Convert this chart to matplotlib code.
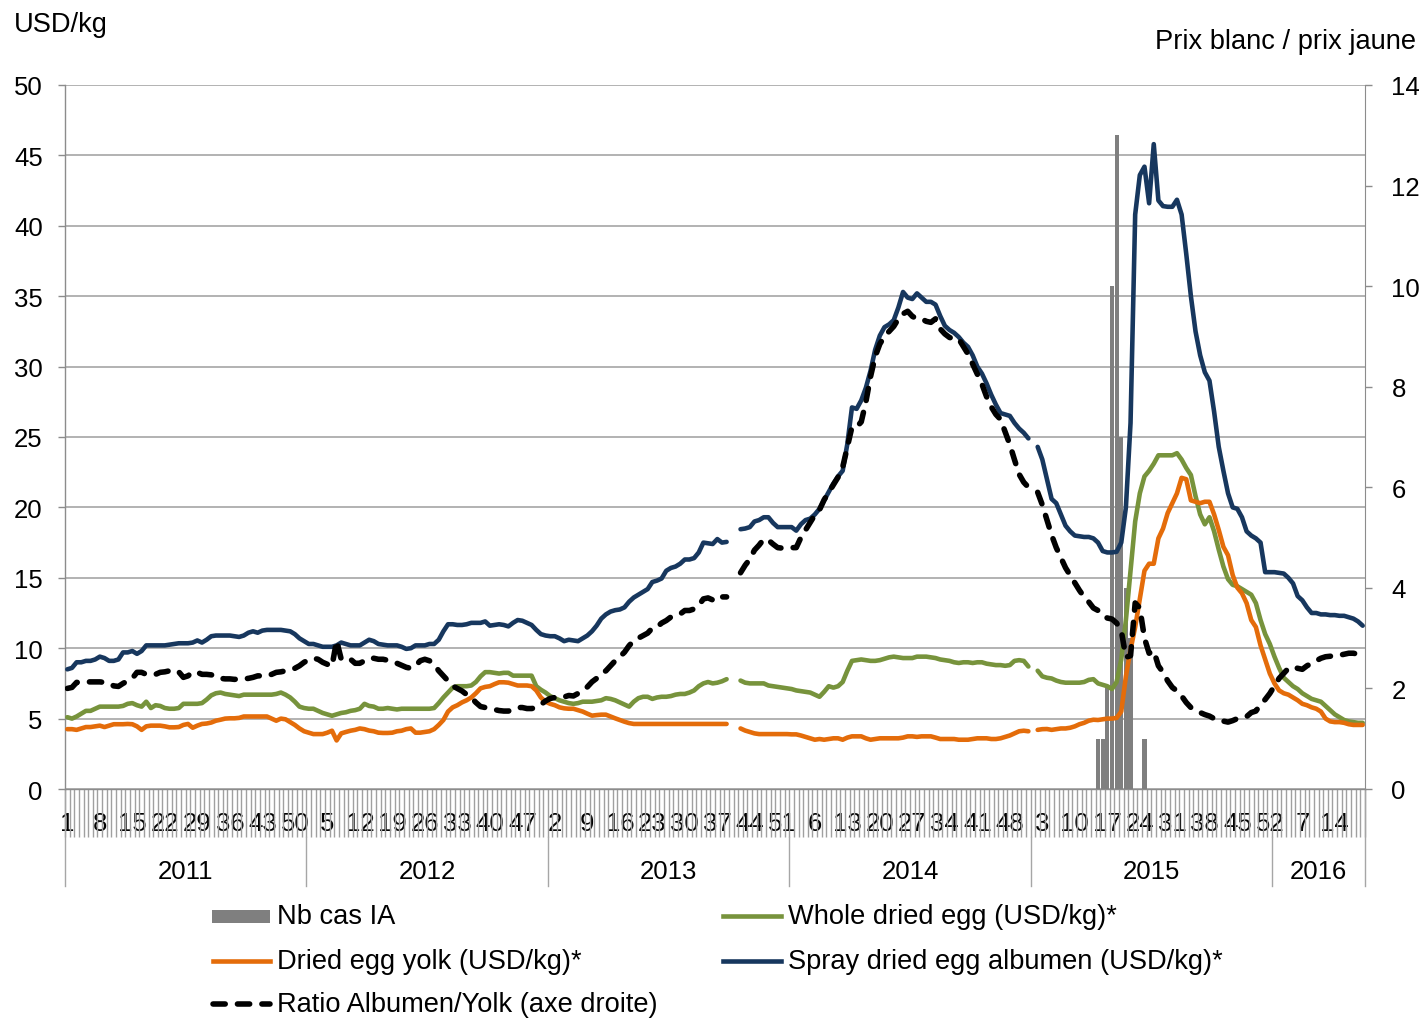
import numpy as np
import matplotlib
matplotlib.use("Agg")
import matplotlib.pyplot as plt
import matplotlib.transforms as mtransforms
from matplotlib.lines import Line2D
from matplotlib.patches import Rectangle

plt.rcParams['font.family'] = ['Liberation Sans', 'DejaVu Sans']

nan = float('nan')

# Calendar: weeks per year shown on the category axis
years = [2011, 2012, 2013, 2014, 2015, 2016]
weeks_per_year = [52, 52, 52, 52, 52, 20]

# Spray dried egg albumen, USD/kg (weekly)
albumen = [
    8.5, 8.6, 9.0, 9.0, 9.1, 9.1, 9.2, 9.4, 9.3, 9.1, 9.1, 9.2, 9.7, 9.7, 9.8, 9.6, 9.8, 10.2, 10.2, 10.2,
    10.2, 10.2, 10.25, 10.3, 10.35, 10.35, 10.35, 10.4, 10.55, 10.4, 10.6, 10.85, 10.9, 10.9, 10.9, 10.9,
    10.85, 10.8, 10.9, 11.1, 11.2, 11.1, 11.25, 11.3, 11.3, 11.3, 11.3, 11.25, 11.2, 11.0, 10.7, 10.5,
    # 2012
    10.3, 10.3, 10.2, 10.1, 10.1, 10.1, 10.2, 10.4, 10.3, 10.2, 10.2, 10.2, 10.4, 10.6, 10.5, 10.3, 10.25,
    10.2, 10.2, 10.2, 10.1, 9.95, 10.0, 10.2, 10.2, 10.2, 10.3, 10.3, 10.6, 11.2, 11.7, 11.7, 11.65, 11.65,
    11.7, 11.8, 11.8, 11.8, 11.9, 11.6, 11.65, 11.7, 11.65, 11.55, 11.8, 12.0, 11.95, 11.8, 11.65, 11.3,
    11.0, 10.9,
    # 2013
    10.85, 10.85, 10.7, 10.5, 10.6, 10.55, 10.5, 10.7, 10.9, 11.2, 11.6, 12.1, 12.4, 12.6, 12.7, 12.75,
    12.9, 13.3, 13.6, 13.8, 14.0, 14.2, 14.7, 14.8, 14.95, 15.5, 15.7, 15.8, 16.0, 16.3, 16.3, 16.4, 16.8,
    17.5, 17.45, 17.4, 17.75, 17.5, 17.55, nan, nan, 18.45, 18.5, 18.6, 19.0, 19.1, 19.3, 19.3, 18.9, 18.6,
    18.6, 18.6,
    # 2014
    18.6, 18.35, 18.8, 19.1, 19.2, 19.5, 19.9, 20.5, 21.1, 21.7, 22.2, 22.6, 24.5, 27.1, 27.0, 27.6, 28.5,
    29.7, 31.2, 32.2, 32.8, 33.0, 33.3, 34.2, 35.3, 34.9, 34.8, 35.2, 34.9, 34.6, 34.6, 34.4, 33.6, 32.9,
    32.6, 32.4, 32.1, 31.7, 31.4, 30.8, 30.0, 29.5, 28.8, 28.0, 27.3, 26.7, 26.6, 26.5, 26.0, 25.6, 25.3,
    24.9,
    # 2015
    nan, 24.3, 23.4, 22.0, 20.6, 20.3, 19.5, 18.7, 18.3, 18.0, 17.95, 17.9, 17.9, 17.8, 17.5, 16.9, 16.8,
    16.8, 16.85, 17.5, 20.0, 26.0, 40.8, 43.6, 44.2, 41.6, 45.8, 41.8, 41.4, 41.35, 41.35, 41.85, 40.8,
    38.0, 35.0, 32.5, 30.8, 29.6, 29.0, 26.8, 24.3, 22.6, 21.0, 20.0, 19.9, 19.3, 18.3, 18.0, 17.8, 17.5,
    15.4, 15.4,
    # 2016
    15.4, 15.35, 15.3, 15.0, 14.6, 13.7, 13.4, 12.9, 12.5, 12.5, 12.4, 12.4, 12.35, 12.35, 12.3, 12.3,
    12.2, 12.1, 11.9, 11.6,
]

# Whole dried egg, USD/kg (weekly)
whole_egg = [
    5.1, 5.0, 5.15, 5.35, 5.55, 5.55, 5.7, 5.85, 5.85, 5.85, 5.85, 5.85, 5.9, 6.05, 6.1, 5.95, 5.85, 6.2,
    5.75, 5.95, 5.9, 5.75, 5.7, 5.7, 5.75, 6.05, 6.05, 6.05, 6.05, 6.1, 6.35, 6.65, 6.8, 6.85, 6.75, 6.7,
    6.65, 6.6, 6.7, 6.7, 6.7, 6.7, 6.7, 6.7, 6.7, 6.75, 6.85, 6.7, 6.5, 6.2, 5.85, 5.75,
    # 2012
    5.7, 5.7, 5.55, 5.4, 5.3, 5.2, 5.3, 5.4, 5.45, 5.55, 5.6, 5.7, 6.05, 5.9, 5.85, 5.7, 5.7, 5.75, 5.7,
    5.65, 5.7, 5.7, 5.7, 5.7, 5.7, 5.7, 5.7, 5.75, 6.1, 6.5, 6.85, 7.2, 7.3, 7.3, 7.3, 7.35, 7.6, 8.0, 8.3,
    8.3, 8.25, 8.2, 8.25, 8.25, 8.05, 8.05, 8.05, 8.05, 8.05, 7.3, 7.05, 6.85,
    # 2013
    6.6, 6.45, 6.3, 6.2, 6.1, 6.05, 6.1, 6.2, 6.2, 6.2, 6.25, 6.3, 6.45, 6.4, 6.3, 6.15, 6.0, 5.85, 6.2,
    6.45, 6.55, 6.55, 6.4, 6.5, 6.55, 6.55, 6.6, 6.7, 6.75, 6.75, 6.85, 7.0, 7.3, 7.5, 7.6, 7.5, 7.55,
    7.65, 7.8, nan, nan, 7.7, 7.55, 7.5, 7.5, 7.5, 7.5, 7.35, 7.3, 7.25, 7.2, 7.15,
    # 2014
    7.1, 7.0, 6.95, 6.9, 6.85, 6.7, 6.55, 6.9, 7.3, 7.2, 7.3, 7.6, 8.4, 9.1, 9.15, 9.2, 9.15, 9.1, 9.1,
    9.15, 9.25, 9.35, 9.4, 9.35, 9.3, 9.3, 9.3, 9.4, 9.4, 9.4, 9.35, 9.3, 9.2, 9.15, 9.1, 9.0, 8.95, 9.0,
    9.0, 8.95, 9.0, 9.0, 8.9, 8.85, 8.8, 8.8, 8.75, 8.8, 9.1, 9.15, 9.1, 8.7,
    # 2015
    nan, 8.4, 8.0, 7.9, 7.85, 7.7, 7.6, 7.55, 7.55, 7.55, 7.55, 7.6, 7.75, 7.8, 7.5, 7.4, 7.3, 7.1, 7.6,
    9.2, 12.0, 15.5, 19.0, 21.0, 22.2, 22.6, 23.1, 23.7, 23.7, 23.7, 23.7, 23.85, 23.4, 22.8, 22.3, 20.8,
    19.5, 18.8, 19.3, 18.3, 17.0, 15.8, 14.9, 14.5, 14.4, 14.2, 14.0, 13.8, 13.2, 12.0, 11.0, 10.3,
    # 2016
    9.4, 8.6, 7.9, 7.6, 7.3, 7.1, 6.8, 6.6, 6.4, 6.3, 6.2, 5.9, 5.6, 5.3, 5.1, 4.9, 4.8, 4.75, 4.7, 4.7,
]

# Dried egg yolk, USD/kg (weekly)
yolk = [
    4.25, 4.25, 4.2, 4.3, 4.4, 4.4, 4.45, 4.5, 4.4, 4.5, 4.6, 4.6, 4.6, 4.62, 4.6, 4.45, 4.2, 4.45, 4.5,
    4.5, 4.5, 4.45, 4.38, 4.38, 4.4, 4.55, 4.62, 4.35, 4.5, 4.62, 4.65, 4.72, 4.85, 4.92, 5.0, 5.02, 5.02,
    5.05, 5.15, 5.15, 5.15, 5.15, 5.15, 5.15, 5.0, 4.85, 5.0, 4.95, 4.75, 4.55, 4.3, 4.1,
    # 2012
    4.0, 3.9, 3.9, 3.9, 4.0, 4.14, 3.45, 3.95, 4.05, 4.14, 4.2, 4.3, 4.25, 4.15, 4.1, 4.0, 3.98, 3.98,
    4.0, 4.1, 4.14, 4.25, 4.3, 4.0, 4.0, 4.05, 4.1, 4.25, 4.55, 4.9, 5.5, 5.8, 5.95, 6.15, 6.3, 6.5, 6.8,
    7.15, 7.25, 7.3, 7.45, 7.58, 7.58, 7.55, 7.45, 7.35, 7.35, 7.35, 7.3, 7.0, 6.5, 6.2,
    # 2013
    6.05, 5.95, 5.8, 5.73, 5.7, 5.7, 5.6, 5.5, 5.35, 5.21, 5.25, 5.28, 5.28, 5.15, 5.02, 4.9, 4.78, 4.68,
    4.62, 4.62, 4.62, 4.62, 4.62, 4.62, 4.62, 4.62, 4.62, 4.62, 4.62, 4.62, 4.62, 4.62, 4.62, 4.62, 4.62,
    4.62, 4.62, 4.62, 4.62, nan, nan, 4.3, 4.15, 4.05, 3.95, 3.9, 3.9, 3.9, 3.9, 3.9, 3.9, 3.9,
    # 2014
    3.88, 3.88, 3.8, 3.7, 3.6, 3.5, 3.55, 3.5, 3.55, 3.6, 3.6, 3.5, 3.65, 3.74, 3.74, 3.74, 3.6, 3.5,
    3.55, 3.6, 3.6, 3.6, 3.6, 3.6, 3.65, 3.74, 3.74, 3.7, 3.74, 3.74, 3.74, 3.65, 3.55, 3.55, 3.55, 3.55,
    3.5, 3.5, 3.5, 3.55, 3.6, 3.6, 3.6, 3.55, 3.55, 3.6, 3.7, 3.8, 3.95, 4.1, 4.14, 4.1,
    # 2015
    nan, 4.2, 4.25, 4.26, 4.2, 4.25, 4.3, 4.3, 4.35, 4.45, 4.6, 4.7, 4.85, 4.92, 4.9, 4.95, 5.0, 5.0,
    5.05, 5.5, 8.0, 9.9, 11.5, 13.5, 15.5, 16.0, 16.0, 17.8, 18.5, 19.6, 20.3, 21.0, 22.1, 22.0, 20.5,
    20.4, 20.3, 20.4, 20.4, 19.5, 18.4, 17.2, 16.6, 15.2, 14.3, 13.9, 13.2, 12.0, 11.5, 10.2, 9.2, 8.2,
    # 2016
    7.5, 7.0, 6.8, 6.7, 6.5, 6.3, 6.05, 5.95, 5.8, 5.7, 5.5, 5.0, 4.8, 4.75, 4.75, 4.7, 4.6, 4.55, 4.55,
    4.55,
]

# Albumen / yolk price ratio (right axis)
ratio = [
    2.0, 2.02, 2.12, 2.12, 2.13, 2.13, 2.13, 2.13, 2.12, 2.1, 2.05, 2.04, 2.1, 2.15, 2.2, 2.32, 2.32, 2.28,
    2.27, 2.28, 2.32, 2.33, 2.35, 2.37, 2.33, 2.22, 2.25, 2.33, 2.32, 2.28, 2.28, 2.27, 2.25, 2.2, 2.19,
    2.19, 2.18, 2.19, 2.19, 2.2, 2.22, 2.25, 2.25, 2.25, 2.28, 2.32, 2.33, 2.35, 2.37, 2.4, 2.45, 2.52,
    # 2012
    2.57, 2.6, 2.58, 2.52, 2.48, 2.44, 2.95, 2.58, 2.6, 2.58, 2.5, 2.5, 2.55, 2.6, 2.6, 2.58, 2.58, 2.56,
    2.52, 2.5, 2.46, 2.42, 2.4, 2.45, 2.55, 2.58, 2.55, 2.48, 2.35, 2.25, 2.15, 2.05, 2.0, 1.95, 1.88,
    1.82, 1.72, 1.64, 1.62, 1.6, 1.58, 1.56, 1.55, 1.55, 1.58, 1.62, 1.62, 1.6, 1.6, 1.62, 1.68, 1.75,
    # 2013
    1.8, 1.82, 1.85, 1.83, 1.86, 1.85, 1.9, 1.95, 2.03, 2.13, 2.2, 2.3, 2.35, 2.45, 2.55, 2.63, 2.72, 2.85,
    2.95, 3.0, 3.05, 3.1, 3.2, 3.22, 3.3, 3.35, 3.42, 3.45, 3.48, 3.55, 3.55, 3.58, 3.65, 3.78, 3.8, 3.76,
    3.84, 3.82, 3.82, nan, nan, 4.3, 4.45, 4.57, 4.75, 4.85, 4.97, 4.95, 4.87, 4.8, 4.79, 4.79,
    # 2014
    4.8, 4.8, 5.0, 5.15, 5.3, 5.45, 5.55, 5.75, 5.9, 6.05, 6.2, 6.4, 6.8, 7.2, 7.2, 7.3, 7.7, 8.2, 8.6,
    8.85, 9.0, 9.1, 9.2, 9.35, 9.45, 9.5, 9.4, 9.35, 9.35, 9.3, 9.28, 9.35, 9.15, 9.05, 8.98, 8.95, 8.95,
    8.8, 8.65, 8.45, 8.25, 8.05, 7.8, 7.6, 7.45, 7.35, 7.1, 6.85, 6.55, 6.26, 6.1, 6.0,
    # 2015
    nan, 5.9, 5.65, 5.35, 5.05, 4.8, 4.6, 4.4, 4.25, 4.1, 3.95, 3.82, 3.72, 3.6, 3.55, 3.45, 3.4, 3.38,
    3.3, 3.15, 2.62, 2.65, 3.7, 3.6, 3.0, 2.7, 2.75, 2.45, 2.32, 2.15, 2.02, 1.95, 1.85, 1.72, 1.62, 1.57,
    1.52, 1.48, 1.45, 1.4, 1.35, 1.35, 1.33, 1.36, 1.4, 1.42, 1.44, 1.52, 1.55, 1.68, 1.78, 1.9,
    # 2016
    2.05, 2.2, 2.3, 2.4, 2.43, 2.4, 2.38, 2.45, 2.5, 2.55, 2.6, 2.63, 2.64, 2.65, 2.66, 2.68, 2.7, 2.7,
    2.68, 2.62,
]

# Avian influenza cases (right axis), by week of 2015
ia_year = 2015
ia_weeks = [15, 16, 17, 18, 19, 20, 21, 22, 25]
ia_cases = [1, 1, 2, 10, 13, 7, 4, 3, 1]

# Colours
C_ALB = '#17375E'
C_YOLK = '#E46C0A'
C_WHOLE = '#77933C'
C_BAR = '#7F7F7F'
C_GRID = '#A6A6A6'
C_AXIS = '#8C8C8C'

# Category axis bookkeeping
week_numbers = []
year_start = []
for y, n in zip(years, weeks_per_year):
    year_start.append(len(week_numbers))
    week_numbers.extend(range(1, n + 1))
N = len(week_numbers)
x = np.arange(N)
bar_x = [year_start[years.index(ia_year)] + w - 1 for w in ia_weeks]

W, H = 1424, 1020
fig = plt.figure(figsize=(W / 100, H / 100), dpi=100)
L, R, T, B = 65, 1365, 86, 790
ax = fig.add_axes([L / W, 1 - B / H, (R - L) / W, (B - T) / H])

TICK_FS = 18.5
TEXT_FS = 19.6
LW = 3.3
LW_RATIO = 4.0
DASH = (2.2, 2.2)

# Left axis with horizontal gridlines
ax.set_xlim(-0.5, N - 0.5)
ax.set_ylim(0, 50)
ax.set_yticks(range(0, 51, 5))
ax.yaxis.grid(True, color=C_GRID, linewidth=1.2)
ax.set_axisbelow(True)
ax.tick_params(axis='y', direction='out', length=5, width=1, color=C_AXIS,
               pad=11, labelsize=TICK_FS)
for s in ('top', 'right'):
    ax.spines[s].set_visible(False)
for s in ('left', 'bottom'):
    ax.spines[s].set_color(C_AXIS)
    ax.spines[s].set_linewidth(1.0)

# Week ticks at every category boundary, labels every 7 weeks
ax.set_xticks(np.arange(-0.5, N, 1.0), minor=True)
lab_idx = list(range(0, N, 7))
ax.set_xticks(lab_idx)
ax.set_xticklabels([str(week_numbers[i]) for i in lab_idx])
ax.tick_params(axis='x', which='minor', direction='out', length=34.5, width=1.0, color='#A0A0A0')
ax.tick_params(axis='x', which='major', length=0, pad=15.5, labelsize=TICK_FS)

# Year grouping below week labels
blend = mtransforms.blended_transform_factory(ax.transData, ax.transAxes)
y_mid = (B - 838) / (B - T)
y_bot = (B - 887) / (B - T)
bounds = [s - 0.5 for s in year_start] + [N - 0.5]
for k, b in enumerate(bounds):
    top = 0 if k in (0, len(bounds) - 1) else y_mid
    ax.add_line(Line2D([b, b], [top, y_bot], transform=blend, color=C_GRID,
                       linewidth=1.0, clip_on=False))
for y, s, n in zip(years, year_start, weeks_per_year):
    ax.text(s + (n - 1) / 2, (B - 872) / (B - T), str(y), transform=blend,
            ha='center', va='center', fontsize=TICK_FS)

# Right axis: avian influenza cases as bars (below the price lines)
ax_bar = ax.twinx()
ax_bar.set_ylim(0, 14)
ax_bar.set_yticks(range(0, 15, 2))
ax_bar.tick_params(axis='y', direction='out', length=5, width=1, color=C_AXIS,
                   pad=14, labelsize=TICK_FS)
for s in ('top', 'left', 'bottom'):
    ax_bar.spines[s].set_visible(False)
ax_bar.spines['right'].set_color(C_AXIS)
ax_bar.bar(bar_x, ia_cases, width=0.9, color=C_BAR, linewidth=0)

# Price lines on the left scale
ax_p = ax.twinx()
ax_p.set_ylim(0, 50)
ax_p.set_axis_off()
line_kw = dict(linewidth=LW, solid_joinstyle='round', solid_capstyle='round')
ax_p.plot(x, whole_egg, color=C_WHOLE, **line_kw)
ax_p.plot(x, yolk, color=C_YOLK, **line_kw)
ax_p.plot(x, albumen, color=C_ALB, **line_kw)

# Ratio on the right scale, on top
ax_r = ax.twinx()
ax_r.set_ylim(0, 14)
ax_r.set_axis_off()
ax_r.plot(x, ratio, color='black', linewidth=LW_RATIO, dashes=DASH,
          dash_capstyle='round', dash_joinstyle='round')

for i, a in enumerate((ax, ax_bar, ax_p, ax_r)):
    a.set_zorder(i)
ax.patch.set_visible(True)
ax.patch.set_facecolor('white')

# Axis titles
fig.text(14 / W, 1 - 25 / H, 'USD/kg', ha='left', va='center', fontsize=TEXT_FS)
fig.text(1416 / W, 1 - 42 / H, 'Prix blanc / prix jaune', ha='right', va='center', fontsize=TEXT_FS)

# Legend (two columns, three rows)
def fx(px):
    return px / W

def fy(py):
    return 1 - py / H

def legend_line(x0, x1, yc, **kw):
    fig.add_artist(Line2D([fx(x0), fx(x1)], [fy(yc), fy(yc)], transform=fig.transFigure, **kw))

def legend_text(x0, yc, s):
    fig.text(fx(x0), fy(yc), s, ha='left', va='center', fontsize=TEXT_FS)

fig.add_artist(Rectangle((fx(212), fy(924)), fx(270) - fx(212), fy(911) - fy(924),
                         transform=fig.transFigure, color=C_BAR, linewidth=0))
legend_text(277, 917, 'Nb cas IA')
legend_line(723, 781, 917, color=C_WHOLE, linewidth=LW)
legend_text(788, 917, 'Whole dried egg (USD/kg)*')
legend_line(213, 270, 962, color=C_YOLK, linewidth=LW)
legend_text(277, 962, 'Dried egg yolk (USD/kg)*')
legend_line(723, 781, 962, color=C_ALB, linewidth=LW)
legend_text(788, 962, 'Spray dried egg albumen (USD/kg)*')
legend_line(213, 270, 1005, color='black', linewidth=LW_RATIO, dashes=DASH,
            dash_capstyle='round')
legend_text(277, 1005, 'Ratio Albumen/Yolk (axe droite)')

fig.savefig('out.png', dpi=100, facecolor='white')
